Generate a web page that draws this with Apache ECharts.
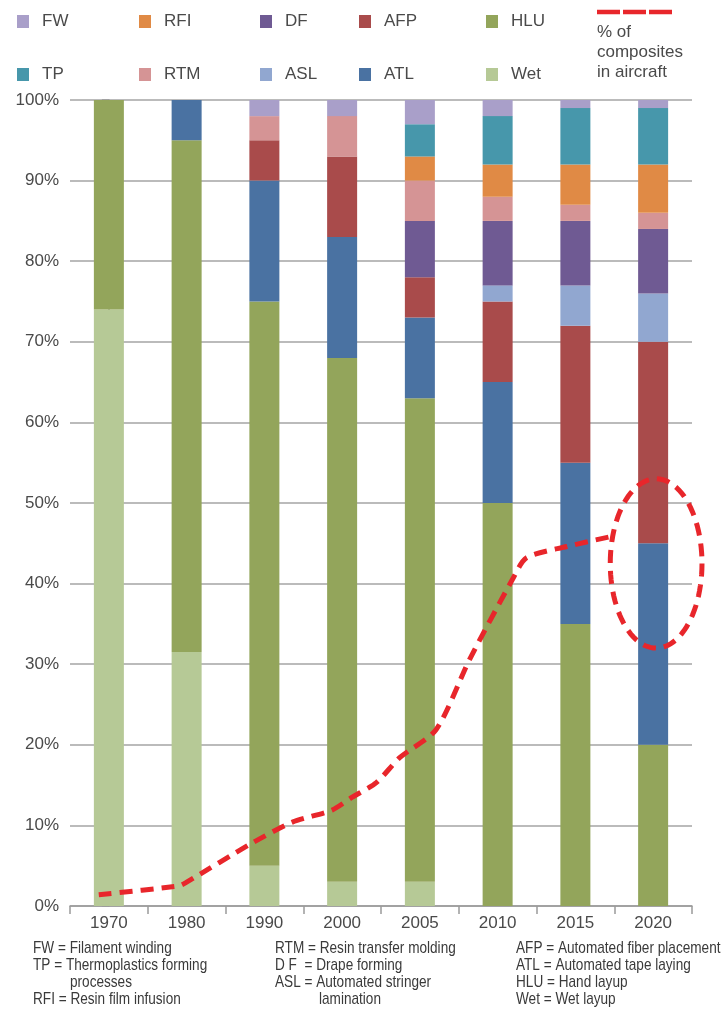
<!DOCTYPE html>
<html>
<head>
<meta charset="utf-8">
<style>
  html, body { margin: 0; padding: 0; background: #ffffff; }
  #chart { width: 725px; height: 1014px; }
</style>
<script src="https://cdn.jsdelivr.net/npm/echarts@6/dist/echarts.min.js"></script>
</head>
<body>
<div id="chart"></div>
<script>
// Years on the horizontal axis
const years = ['1970', '1980', '1990', '2000', '2005', '2010', '2015', '2020'];

// Share of each manufacturing process (%), stacked bottom to top
const wet = [74, 31.5, 5, 3, 3, 0, 0, 0];
const hlu = [26, 63.5, 70, 65, 60, 50, 35, 20];
const atl = [0, 5, 15, 15, 10, 15, 20, 25];
const afp = [0, 0, 5, 10, 5, 10, 17, 25];
const asl = [0, 0, 0, 0, 0, 2, 5, 6];
const df  = [0, 0, 0, 0, 7, 8, 8, 8];
const rtm = [0, 0, 3, 5, 5, 3, 2, 2];
const rfi = [0, 0, 0, 0, 3, 4, 5, 6];
const tp  = [0, 0, 0, 0, 4, 6, 7, 7];
const fw  = [0, 0, 2, 2, 3, 2, 1, 1];

// "% of composites in aircraft" trace: position along the year axis (category index) and percent
const compositeX = [-0.13, 0.90, 0.99, 1.84, 2.36, 2.87, 3.13, 3.44, 3.74, 4.21, 4.64, 5.19, 5.37, 5.89, 6.44];
const compositeY = [1.4, 2.5, 2.9, 7.8, 10.4, 11.9, 13.5, 15.3, 18.4, 21.9, 30.6, 40.5, 43.2, 44.6, 45.8];

// Highlight ring around the 2020 ATL/AFP boundary
const ringYear = '2020';
const ringLow = 32;
const ringHigh = 53;

// Y-axis tick labels
const yTicks = [0, 10, 20, 30, 40, 50, 60, 70, 80, 90, 100];

const colors = {
  FW: '#a99fc9', RFI: '#e08a45', DF: '#6f5a93', AFP: '#a94b4b', HLU: '#93a55b',
  TP: '#4797ab', RTM: '#d59495', ASL: '#91a7d0', ATL: '#4a72a2', Wet: '#b6c996'
};
const RED = '#e8262b';
const TEXT = '#4a4a4a';
const AXIS = '#9a9a9a';
const FONT = '"Liberation Sans", Arial, Helvetica, sans-serif';

const stackOrder = [
  ['Wet', wet], ['HLU', hlu], ['ATL', atl], ['AFP', afp], ['ASL', asl],
  ['DF', df], ['RTM', rtm], ['RFI', rfi], ['TP', tp], ['FW', fw]
];

const barSeries = stackOrder.map(([name, values]) => ({
  name: name,
  type: 'bar',
  stack: 'share',
  barWidth: 30,
  xAxisIndex: 0,
  yAxisIndex: 0,
  itemStyle: { color: colors[name] },
  data: values
}));

// Legend columns (two entries each)
const legendColumns = [
  { left: 12, names: ['FW', 'TP'] },
  { left: 134, names: ['RFI', 'RTM'] },
  { left: 255, names: ['DF', 'ASL'] },
  { left: 354, names: ['AFP', 'ATL'] },
  { left: 481, names: ['HLU', 'Wet'] }
];
const legends = legendColumns.map(col => ({
  orient: 'vertical',
  left: col.left,
  top: 8,
  itemWidth: 12,
  itemHeight: 13,
  itemGap: 36,
  icon: 'rect',
  selectedMode: false,
  data: col.names,
  textStyle: { color: TEXT, fontFamily: FONT, fontSize: 17, lineHeight: 17, padding: [0, 0, 0, 8] }
}));

// Abbreviation key under the axis (condensed type)
const footnotes = [
  { x: 33, y: 940, text: 'FW = Filament winding' },
  { x: 33, y: 957, text: 'TP = Thermoplastics forming' },
  { x: 70, y: 974, text: 'processes' },
  { x: 33, y: 991, text: 'RFI = Resin film infusion' },
  { x: 275, y: 940, text: 'RTM = Resin transfer molding' },
  { x: 275, y: 957, text: 'D F  = Drape forming' },
  { x: 275, y: 974, text: 'ASL = Automated stringer' },
  { x: 319, y: 991, text: 'lamination' },
  { x: 516, y: 940, text: 'AFP = Automated fiber placement' },
  { x: 516, y: 957, text: 'ATL = Automated tape laying' },
  { x: 516, y: 974, text: 'HLU = Hand layup' },
  { x: 516, y: 991, text: 'Wet = Wet layup' }
];

const graphics = [
  {
    type: 'line',
    shape: { x1: 597, y1: 12, x2: 674, y2: 12 },
    style: { stroke: RED, lineWidth: 4.5, lineDash: [23, 3] }
  },
  {
    type: 'text',
    left: 597,
    top: 22,
    style: {
      text: '% of\ncomposites\nin aircraft',
      fill: TEXT,
      font: '17px ' + FONT,
      lineHeight: 20
    }
  }
].concat(footnotes.map(f => ({
  type: 'text',
  x: f.x,
  y: f.y,
  scaleX: 0.8,
  style: { text: f.text, fill: '#3a3a3a', font: '17px ' + FONT, align: 'left', verticalAlign: 'top' }
})));

const chart = echarts.init(document.getElementById('chart'), null, { renderer: 'canvas' });

chart.setOption({
  animation: false,
  backgroundColor: '#ffffff',
  legend: legends,
  grid: { left: 70, right: 33, top: 100, bottom: 108, containLabel: false },
  xAxis: [
    {
      type: 'category',
      data: years,
      boundaryGap: true,
      axisLine: { show: true, lineStyle: { color: AXIS, width: 1.5 } },
      axisTick: { show: true, length: 8, lineStyle: { color: AXIS, width: 1.5 } },
      axisLabel: { color: TEXT, fontFamily: FONT, fontSize: 17, margin: 9 },
      splitLine: { show: false }
    },
    {
      type: 'value',
      min: -0.5,
      max: 7.5,
      show: false
    }
  ],
  yAxis: {
    type: 'value',
    min: 0,
    max: 100,
    interval: 10,
    axisLine: { show: true, lineStyle: { color: AXIS, width: 1.5 } },
    axisTick: { show: true, length: 7, lineStyle: { color: AXIS, width: 1.5 } },
    axisLabel: {
      color: TEXT, fontFamily: FONT, fontSize: 17, margin: 11,
      formatter: v => (yTicks.indexOf(v) >= 0 ? v + '%' : '')
    },
    splitLine: { show: true, lineStyle: { color: '#a4a4a4', width: 1.5 } }
  },
  series: barSeries.concat([
    {
      name: '% of composites in aircraft',
      type: 'line',
      xAxisIndex: 1,
      yAxisIndex: 0,
      smooth: 0.25,
      symbol: 'none',
      z: 5,
      lineStyle: { color: RED, width: 5, type: [13, 8], cap: 'butt' },
      data: compositeX.map((x, i) => [x, compositeY[i]])
    },
    {
      name: 'ring',
      type: 'custom',
      xAxisIndex: 0,
      yAxisIndex: 0,
      z: 6,
      silent: true,
      data: [[ringYear, ringLow, ringHigh]],
      renderItem: function (params, api) {
        const cat = api.value(0);
        const top = api.coord([cat, api.value(2)]);
        const bottom = api.coord([cat, api.value(1)]);
        const band = api.size([1, 0])[0];
        const cx = top[0] + 3;
        const cy = (top[1] + bottom[1]) / 2;
        const rx = band * 0.59;
        const ry = (bottom[1] - top[1]) / 2;
        const pts = [];
        for (let k = 0; k < 96; k++) {
          const t = (k / 96) * Math.PI * 2;
          pts.push([cx + rx * Math.cos(t), cy + ry * Math.sin(t)]);
        }
        return {
          type: 'polygon',
          shape: { points: pts },
          style: { fill: 'none', stroke: RED, lineWidth: 5, lineDash: [13, 8] }
        };
      }
    }
  ]),
  graphic: graphics
});
</script>
</body>
</html>
